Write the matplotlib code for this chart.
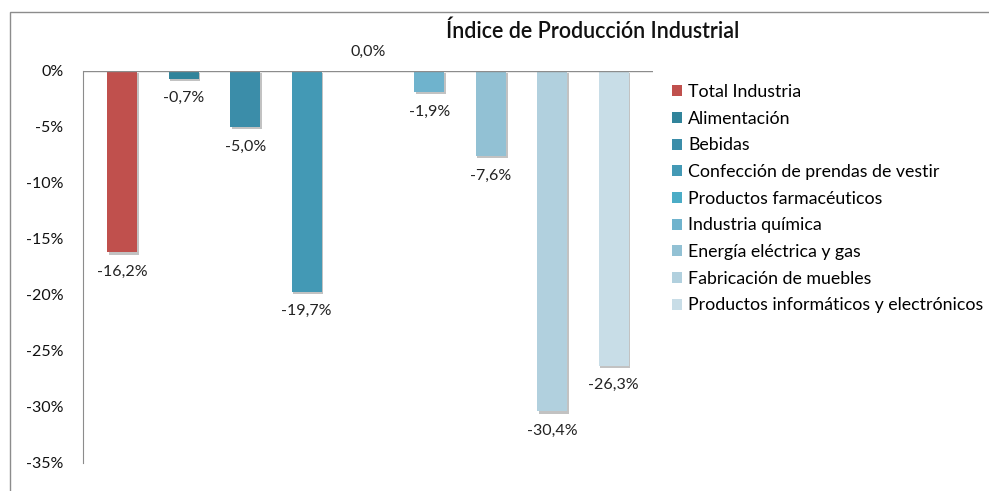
import matplotlib.pyplot as plt
import matplotlib.patheffects as pe
from matplotlib.patches import Rectangle
from matplotlib.ticker import FuncFormatter

plt.rcParams['font.family'] = ['Lato', 'DejaVu Sans']

# Datos
sectores = ['Total Industria', 'Alimentación', 'Bebidas',
            'Confección de prendas de vestir', 'Productos farmacéuticos',
            'Industria química', 'Energía eléctrica y gas',
            'Fabricación de muebles', 'Productos informáticos y electrónicos']
valores = [-16.2, -0.7, -5.0, -19.7, 0.0, -1.9, -7.6, -30.4, -26.3]
colores = ['#C0504D', '#31849B', '#3B8DA9', '#4399B5', '#4BACC6',
           '#6FB3CD', '#92C1D4', '#B1D0DE', '#C8DDE7']
yticks = [0, -5, -10, -15, -20, -25, -30, -35]

fig = plt.figure(figsize=(9.89, 4.91), dpi=100)
ax = fig.add_axes([83 / 989, 1 - 463 / 491, 570 / 989, 392 / 491])

# marco exterior del gráfico
fig.patches.append(Rectangle((10 / 989, -0.2), 1.2, 1 - 12 / 491 + 0.2,
                             transform=fig.transFigure, fill=False,
                             edgecolor='#8c8c8c', linewidth=1.0))

sombra = [pe.SimplePatchShadow(offset=(1.2, -1.5), shadow_rgbFace='#9a9a9a', alpha=0.6),
          pe.Normal()]

for i, (nombre, v, c) in enumerate(zip(sectores, valores, colores)):
    b = ax.bar(i, v, width=0.49, color=c, label=nombre, zorder=2)
    for p in b.patches:
        p.set_path_effects(sombra)
    etiqueta = f'{v:.1f}%'.replace('.', ',')
    off = -14 if v < 0 else 14
    ax.annotate(etiqueta, (i, v), xytext=(0, off), textcoords='offset points',
                ha='center', va='center', fontsize=11.5, color='#222222',
                annotation_clip=False)

ax.set_xlim(-0.64, 8.64)
ax.set_ylim(-35, 0)
ax.set_yticks(yticks)
ax.yaxis.set_major_formatter(FuncFormatter(lambda y, _: f'{y:.0f}%'))
ax.tick_params(axis='y', length=0, pad=14, labelsize=11.5, labelcolor='#111111')
ax.set_xticks([])

for s in ['right', 'bottom', 'top']:
    ax.spines[s].set_visible(False)
ax.spines['left'].set_color('#8c8c8c')
ax.axhline(0, color='#8c8c8c', linewidth=1.0, zorder=3)

fig.text(593 / 989, 1 - 31 / 491, 'Índice de Producción Industrial',
         ha='center', va='center', fontsize=15.5, fontweight='semibold', color='#111111')

leg = fig.legend(loc='upper left', bbox_to_anchor=(665 / 989, 1 - 77 / 491),
                 frameon=False, fontsize=12.8, handlelength=0.55, handleheight=0.55,
                 handletextpad=0.35, labelspacing=0.6, borderaxespad=0)
for h in leg.legend_handles:
    h.set_path_effects([])

fig.savefig('out.png', dpi=100)
